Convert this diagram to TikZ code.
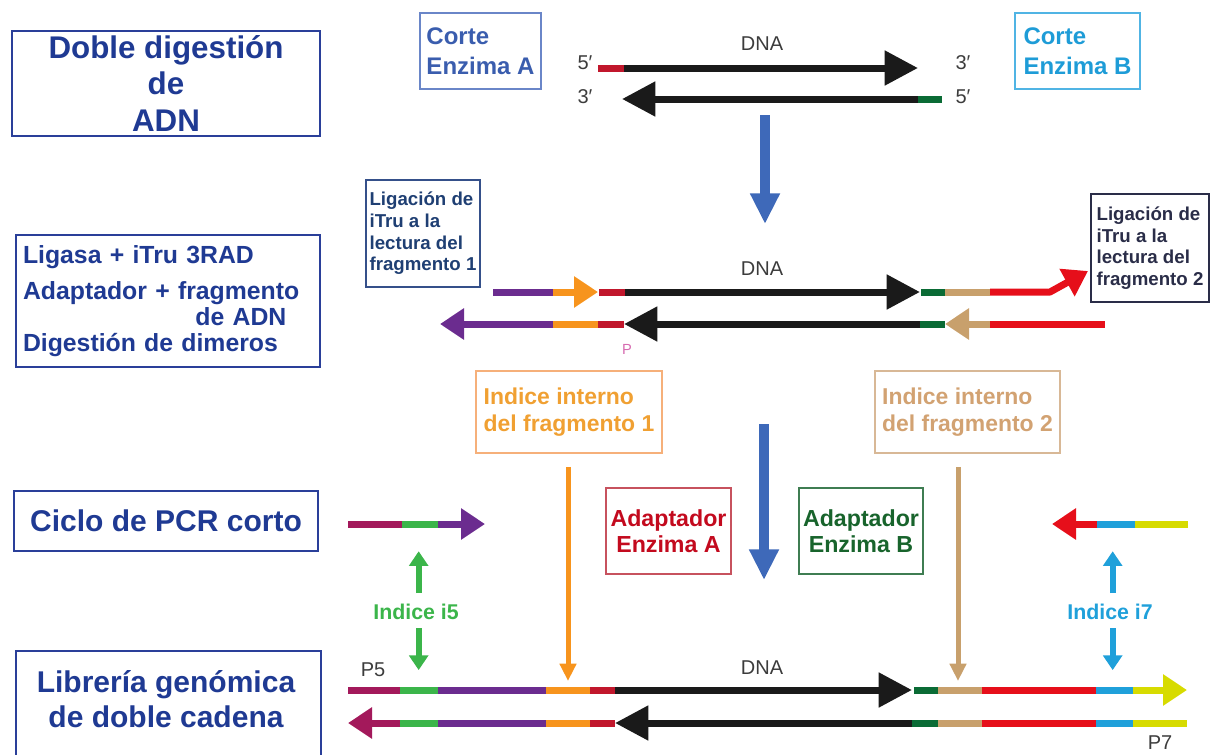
\documentclass[tikz,border=0pt]{standalone}
\usepackage{fontspec}
\setmainfont{Liberation Sans}
\usetikzlibrary{arrows.meta,positioning}
\definecolor{navy}{HTML}{1F3A93}
\definecolor{navyframe}{HTML}{2A3F99}
\definecolor{cortea}{HTML}{3A5DAE}
\definecolor{corteaframe}{HTML}{6A86C8}
\definecolor{corteb}{HTML}{1E9CD7}
\definecolor{cortebframe}{HTML}{50B4E4}
\definecolor{ligone}{HTML}{1F3F73}
\definecolor{ligoneframe}{HTML}{35508A}
\definecolor{ligtwo}{HTML}{2A2D48}
\definecolor{idxone}{HTML}{F7941D}
\definecolor{idxonetext}{HTML}{F0A032}
\definecolor{idxoneframe}{HTML}{F6B07A}
\definecolor{idxtwo}{HTML}{C8A06C}
\definecolor{idxtwotext}{HTML}{D2A272}
\definecolor{idxtwoframe}{HTML}{D8B896}
\definecolor{enza}{HTML}{C1172C}
\definecolor{adapa}{HTML}{C30A1E}
\definecolor{adapaframe}{HTML}{C7525E}
\definecolor{enzb}{HTML}{0A6B35}
\definecolor{adapb}{HTML}{18642C}
\definecolor{adapbframe}{HTML}{3F7D52}
\definecolor{pfive}{HTML}{A3195B}
\definecolor{ifive}{HTML}{3BB54A}
\definecolor{readone}{HTML}{6B2C8F}
\definecolor{readtwo}{HTML}{E60F1A}
\definecolor{iseven}{HTML}{1FA0DA}
\definecolor{pseven}{HTML}{D7DB00}
\definecolor{dnak}{HTML}{1A1A1A}
\definecolor{dnagray}{HTML}{3C3C3C}
\definecolor{phos}{HTML}{D66BB0}
\definecolor{flowblue}{HTML}{3E69B9}

\begin{document}
\begin{tikzpicture}[x=0.75pt, y=-0.75pt,
    stage/.style={draw=navyframe, line width=1.9pt, text=navy, inner sep=0pt, align=center},
    note/.style={draw, line width=0.9pt, inner sep=0pt},
    seqlabel/.style={inner sep=0pt, text=dnagray, font=\fontsize{15}{18}\selectfont},
    idxlabel/.style={inner sep=0pt, font=\bfseries\fontsize{16}{18}\selectfont},
    strand/.style={line width=5.25pt},
    dnahead/.style={-{Triangle[length=25pt,width=25pt]}},
    tiphead/.style={-{Triangle[length=18pt,width=22.5pt]}},
    bigarrow/.style={flowblue, line width=7.5pt, -{Triangle[length=23pt,width=21pt]}},
    pointer/.style={line width=3.75pt, -{Triangle[length=13pt,width=12pt]}},
    idxarrow/.style={line width=4.5pt, -{Triangle[length=11pt,width=14pt]}}
]
\clip (0,0) rectangle (1210,754);

% --- stages ---
\node[stage, minimum width=231pt, minimum height=78.75pt,
      font=\bfseries\fontsize{23.5}{27.5}\selectfont] (digest) at (166,83.5)
  {Doble digestión\\de\\ADN};
\node[stage, minimum width=228pt, minimum height=99pt, text width=217.5pt, align=left,
      font=\bfseries\fontsize{18.6}{19.5}\selectfont] (ligasa) at (168,301)
  {Ligasa + iTru 3RAD\\[8pt]
   Adaptador + fragmento\\
   \makebox[\linewidth][r]{de ADN\hspace*{20pt}}\\
   Digestión de dimeros};
\node[stage, minimum width=228pt, minimum height=45pt,
      font=\bfseries\fontsize{22.5}{26}\selectfont] (pcr) at (166,521)
  {Ciclo de PCR corto};
\node[stage, minimum width=228.75pt, minimum height=93pt] (library) at (168.5,713) {};
\node[inner sep=0pt, text=navy, align=center,
      font=\bfseries\fontsize{22.5}{26}\selectfont] (librarytext) at (166,699)
  {Librería genómica\\de doble cadena};

% --- notes ---
\node[note, draw=corteaframe, text=cortea, minimum width=90.75pt, minimum height=57pt, align=left,
      font=\bfseries\fontsize{18}{22.5}\selectfont] (cutA) at (480.5,51) {Corte\\Enzima A};
\node[note, draw=cortebframe, text=corteb, minimum width=93.75pt, minimum height=57pt, align=left,
      font=\bfseries\fontsize{18}{22.5}\selectfont] (cutB) at (1077.5,51) {Corte\\Enzima B};
\node[note, draw=ligoneframe, line width=1.2pt, text=ligone, minimum width=85.5pt, minimum height=80.25pt,
      align=left, font=\bfseries\fontsize{14}{16.3}\selectfont] (read1) at (423,233.5)
  {Ligación de\\iTru a la\\lectura del\\fragmento 1};
\node[note, draw=ligtwo, line width=1.2pt, text=ligtwo, minimum width=88.5pt, minimum height=81pt,
      align=left, font=\bfseries\fontsize{14}{16.3}\selectfont] (read2) at (1150,248)
  {Ligación de\\iTru a la\\lectura del\\fragmento 2};
\node[note, draw=idxoneframe, text=idxonetext, minimum width=139.5pt, minimum height=61.5pt, align=left,
      font=\bfseries\fontsize{17.2}{20.2}\selectfont] (idx1) at (569,412) {Indice interno\\del fragmento 1};
\node[note, draw=idxtwoframe, text=idxtwotext, minimum width=138.75pt, minimum height=61.5pt, align=left,
      font=\bfseries\fontsize{17.2}{20.2}\selectfont] (idx2) at (967.5,412) {Indice interno\\del fragmento 2};
\node[note, draw=adapaframe, text=adapa, minimum width=93.75pt, minimum height=64.5pt, align=center,
      font=\bfseries\fontsize{17.4}{19.8}\selectfont] (adapA) at (668.5,531) {Adaptador\\Enzima A};
\node[note, draw=adapbframe, text=adapb, minimum width=93pt, minimum height=64.5pt, align=center,
      font=\bfseries\fontsize{17.4}{19.8}\selectfont] (adapB) at (861,531) {Adaptador\\Enzima B};

% --- digestion strands ---
\node[seqlabel] (dna1) at (762,44) {DNA};
\node[seqlabel] (top5) at (585,63) {5′};
\node[seqlabel] (top3) at (963,63) {3′};
\node[seqlabel] (bot3) at (585,97) {3′};
\node[seqlabel] (bot5) at (963,97) {5′};
\draw[strand, enza] (598,68) -- (624,68);
\draw[strand, dnak, dnahead] (624,68) -- (918,68);
\draw[strand, dnak, dnahead] (918,99) -- (622,99);
\draw[strand, enzb] (918,99) -- (942,99);

% --- ligation strands ---
\node[seqlabel] (dna2) at (762,269) {DNA};
\foreach \xa/\xb/\col in {493/553/readone, 599/625/enza, 921/945/enzb, 945/990/idxtwo}
  \draw[strand, \col] (\xa,292) -- (\xb,292);
\draw[strand, idxone, tiphead] (553,292) -- (598,292);
\draw[strand, dnak, dnahead] (625,292) -- (920,292);
\draw[strand, readtwo, tiphead, line join=round] (990,292) -- (1050,292) -- (1088,271);
\foreach \xa/\xb/\col in {553/598/idxone, 598/624/enza, 920/945/enzb, 990/1105/readtwo}
  \draw[strand, \col] (\xa,324) -- (\xb,324);
\draw[strand, readone, tiphead] (553,324) -- (440,324);
\draw[strand, dnak, dnahead] (920,324) -- (624,324);
\draw[strand, idxtwo, tiphead] (990,324) -- (945,324);
\node[inner sep=0pt, text=phos, font=\fontsize{11}{12}\selectfont] (phosP) at (627,349) {P};

% --- PCR primers ---
\foreach \xa/\xb/\col in {348/402/pfive, 402/438/ifive, 1097/1135/iseven, 1135/1188/pseven}
  \draw[strand, \col] (\xa,524) -- (\xb,524);
\draw[strand, readone, tiphead] (438,524) -- (485,524);
\draw[strand, readtwo, tiphead] (1097,524) -- (1052,524);

% --- library strands ---
\node[seqlabel] (dna3) at (762,668) {DNA};
\node[seqlabel] (p5) at (373,670) {P5};
\node[seqlabel] (p7) at (1160,743) {P7};
\foreach \xa/\xb/\col in {348/400/pfive, 400/438/ifive, 438/546/readone, 546/590/idxone, 590/615/enza,
                          914/938/enzb, 938/982/idxtwo, 982/1096/readtwo, 1096/1133/iseven}
  \draw[strand, \col] (\xa,690) -- (\xb,690);
\draw[strand, dnak, dnahead] (615,690) -- (912,690);
\draw[strand, pseven, tiphead] (1133,690) -- (1187,690);
\foreach \xa/\xb/\col in {400/438/ifive, 438/546/readone, 546/590/idxone, 590/615/enza,
                          912/938/enzb, 938/982/idxtwo, 982/1096/readtwo, 1096/1133/iseven, 1133/1187/pseven}
  \draw[strand, \col] (\xa,723) -- (\xb,723);
\draw[strand, pfive, tiphead] (400,723) -- (348,723);
\draw[strand, dnak, dnahead] (912,723) -- (615,723);

% --- flow arrows ---
\draw[bigarrow] (765,115) -- (765,224);
\draw[bigarrow] (764,424) -- (764,580);

% --- index pointers ---
\coordinate (ix1) at (568,681);
\coordinate (ix2) at (958,681);
\draw[pointer, idxone] ([yshift=-10pt]idx1.south -| ix1) -- (ix1);
\draw[pointer, idxtwo] ([yshift=-10pt]idx2.south -| ix2) -- (ix2);

\node[idxlabel, text=ifive] (i5) at (416,612) {Indice i5};
\draw[idxarrow, ifive] ([xshift=2pt,yshift=8pt]i5.north) -- ++(0,-42);
\draw[idxarrow, ifive] ([xshift=2pt,yshift=-6pt]i5.south) -- ++(0,42);
\node[idxlabel, text=iseven] (i7) at (1110,612) {Indice i7};
\draw[idxarrow, iseven] ([xshift=2pt,yshift=8pt]i7.north) -- ++(0,-42);
\draw[idxarrow, iseven] ([xshift=2pt,yshift=-6pt]i7.south) -- ++(0,42);

\end{tikzpicture}
\end{document}
